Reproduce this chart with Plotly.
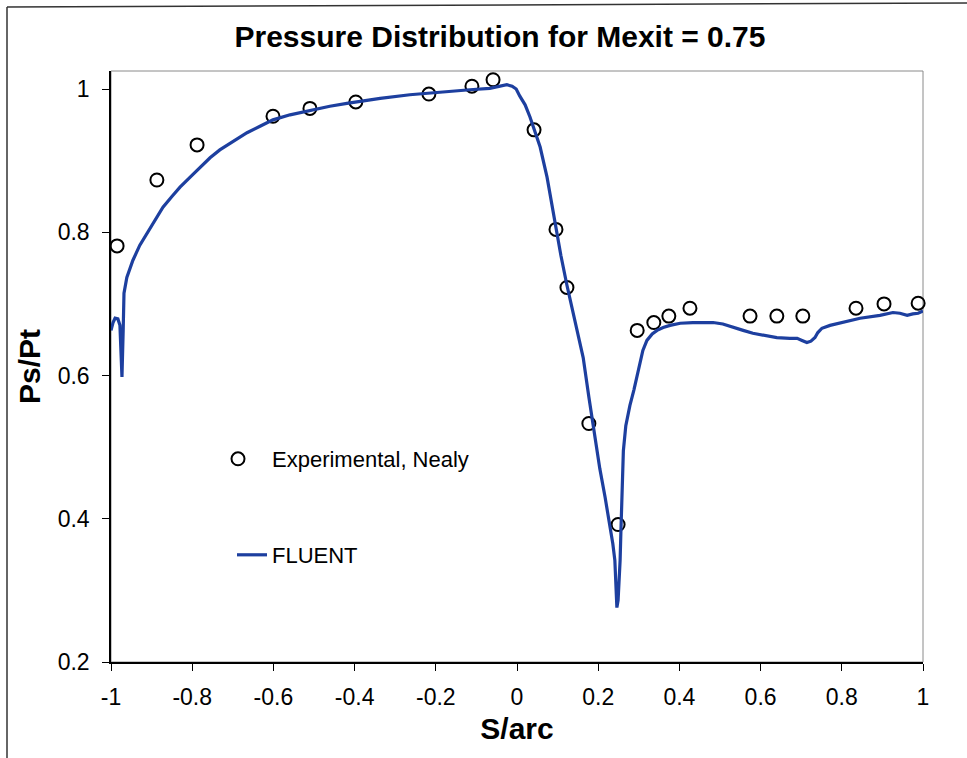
import plotly.graph_objects as go

# ---- data ----
exp_s = [-0.985, -0.887, -0.788, -0.601, -0.510, -0.397, -0.217, -0.111, -0.059,
         0.042, 0.096, 0.123, 0.177, 0.249, 0.296, 0.337, 0.374, 0.426,
         0.574, 0.640, 0.704, 0.835, 0.904, 0.988]
exp_p = [0.781, 0.873, 0.922, 0.962, 0.973, 0.982, 0.993, 1.004, 1.013,
         0.943, 0.804, 0.723, 0.533, 0.392, 0.663, 0.674, 0.683, 0.694,
         0.683, 0.683, 0.683, 0.694, 0.700, 0.701]

fluent_s = [-1.000, -0.995, -0.990, -0.983, -0.978, -0.975, -0.973, -0.970, -0.968,
            -0.961, -0.946, -0.929, -0.911, -0.892, -0.872, -0.850, -0.830, -0.805,
            -0.781, -0.756, -0.732, -0.700, -0.665, -0.633, -0.601, -0.559, -0.502,
            -0.461, -0.419, -0.337, -0.264, -0.190, -0.116, -0.067, -0.042, -0.025,
            -0.012, -0.002, 0.007, 0.020, 0.032, 0.044, 0.057, 0.074, 0.094, 0.108,
            0.123, 0.135, 0.148, 0.163, 0.177, 0.190, 0.204, 0.217, 0.229, 0.236,
            0.241, 0.244, 0.246, 0.249, 0.251, 0.254, 0.256, 0.259, 0.262, 0.268,
            0.278, 0.288, 0.296, 0.303, 0.310, 0.320, 0.333, 0.345, 0.360, 0.377,
            0.402, 0.433, 0.483, 0.507, 0.532, 0.557, 0.581, 0.611, 0.640, 0.672,
            0.690, 0.702, 0.714, 0.724, 0.734, 0.741, 0.751, 0.771, 0.803, 0.845,
            0.894, 0.926, 0.943, 0.961, 0.975, 0.988, 1.000]
fluent_p = [0.663, 0.674, 0.680, 0.679, 0.670, 0.635, 0.598, 0.663, 0.715,
            0.737, 0.761, 0.782, 0.799, 0.817, 0.835, 0.850, 0.863, 0.877,
            0.891, 0.904, 0.915, 0.927, 0.939, 0.948, 0.957, 0.964, 0.971,
            0.976, 0.980, 0.987, 0.992, 0.996, 0.999, 1.001, 1.004, 1.006,
            1.004, 1.000, 0.990, 0.978, 0.961, 0.941, 0.919, 0.877, 0.810, 0.768,
            0.726, 0.695, 0.665, 0.625, 0.570, 0.520, 0.470, 0.430, 0.392, 0.365,
            0.342, 0.307, 0.276, 0.286, 0.307, 0.342, 0.384, 0.430, 0.495, 0.530,
            0.558, 0.580, 0.600, 0.620, 0.635, 0.649, 0.658, 0.663, 0.667, 0.670,
            0.673, 0.674, 0.674, 0.672, 0.667, 0.663, 0.659, 0.656, 0.653, 0.652,
            0.652, 0.649, 0.646, 0.648, 0.653, 0.660, 0.666, 0.670, 0.674, 0.680,
            0.684, 0.688, 0.687, 0.684, 0.686, 0.687, 0.690]

x_tickvals = [-1, -0.8, -0.6, -0.4, -0.2, 0, 0.2, 0.4, 0.6, 0.8, 1]
x_ticktext = ["-1", "-0.8", "-0.6", "-0.4", "-0.2", "0", "0.2", "0.4", "0.6", "0.8", "1"]
y_tickvals = [0.2, 0.4, 0.6, 0.8, 1.0]
y_ticktext = ["0.2", "0.4", "0.6", "0.8", "1"]

FONT = "Liberation Sans, Arial, sans-serif"
BLUE = "#1d3f9f"

fig = go.Figure()
fig.add_trace(go.Scatter(
    x=exp_s, y=exp_p, mode="markers", name="Experimental, Nealy",
    marker=dict(symbol="circle-open", size=13, color="black", line=dict(width=2, color="black")),
    legend="legend", cliponaxis=False,
))
fig.add_trace(go.Scatter(
    x=fluent_s, y=fluent_p, mode="lines", name="FLUENT",
    line=dict(color=BLUE, width=3.2), legend="legend2",
))

W, H = 967, 758
L, R, T, B = 111, 44, 71, 96
pw, ph = W - L - R, H - T - B

def px2paper_x(px):
    return (px - L) / pw

def px2paper_y(py):
    return (H - B - py) / ph

fig.update_layout(
    width=W, height=H,
    margin=dict(l=L, r=R, t=T, b=B),
    paper_bgcolor="white", plot_bgcolor="white",
    font=dict(family=FONT, size=22, color="black"),
    title=dict(text="<b>Pressure Distribution for Mexit = 0.75</b>",
               x=500 / W, xref="container", xanchor="center",
               y=1 - 36 / H, yref="container", yanchor="middle",
               font=dict(family=FONT, size=30, color="black")),
    xaxis=dict(range=[-1, 1], tickvals=x_tickvals, ticktext=x_ticktext,
               showgrid=False, zeroline=False, showline=True, linecolor="black", linewidth=1.5,
               ticks="outside", ticklen=7, tickwidth=1.2, tickcolor="black",
               ticklabelstandoff=7,
               tickfont=dict(size=23), title=dict(text="<b>S/arc</b>", font=dict(size=30), standoff=9)),
    yaxis=dict(range=[0.2, 1.0252], tickvals=y_tickvals, ticktext=y_ticktext,
               showgrid=False, zeroline=False, showline=True, linecolor="black", linewidth=1.5,
               ticks="outside", ticklen=7, tickwidth=1.2, tickcolor="black",
               ticklabelstandoff=8,
               tickfont=dict(size=23), title=dict(text="<b>Ps/Pt</b>", font=dict(size=30), standoff=8)),
    legend=dict(x=px2paper_x(204), y=px2paper_y(459), xanchor="left", yanchor="middle",
                bgcolor="rgba(0,0,0,0)", font=dict(size=22), itemwidth=58),
    legend2=dict(x=px2paper_x(232), y=px2paper_y(555), xanchor="left", yanchor="middle",
                 bgcolor="rgba(0,0,0,0)", font=dict(size=22)),
    showlegend=True,
    shapes=[
        # gray plot-area box (top/right edges visible)
        dict(type="rect", xref="paper", yref="paper", x0=0, x1=1, y0=0, y1=1,
             line=dict(color="#8a8a8a", width=1), layer="below"),
        # outer chart frame (top and left edges)
        dict(type="line", xref="paper", yref="paper",
             x0=px2paper_x(7), x1=px2paper_x(967), y0=px2paper_y(7), y1=px2paper_y(3),
             line=dict(color="#333333", width=1.5)),
        dict(type="line", xref="paper", yref="paper",
             x0=px2paper_x(7), x1=px2paper_x(7), y0=px2paper_y(7), y1=px2paper_y(770),
             line=dict(color="#333333", width=1.5)),
    ],
)

fig.write_html("out.html")
